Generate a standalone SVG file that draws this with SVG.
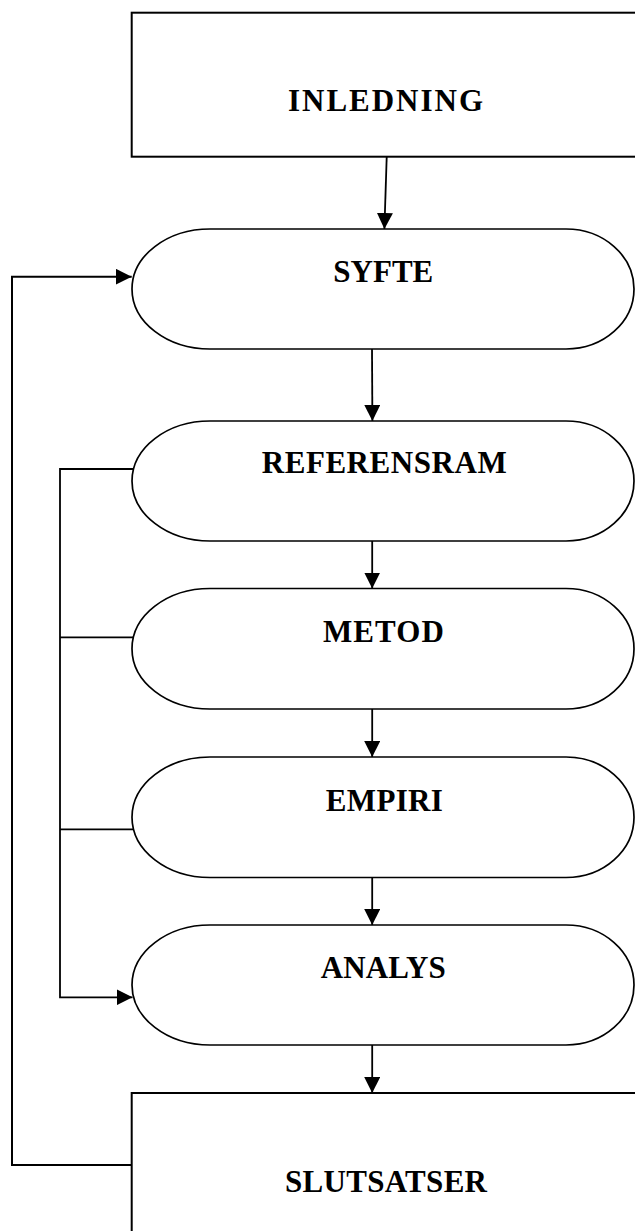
<svg xmlns="http://www.w3.org/2000/svg" width="635" height="1231" viewBox="0 0 635 1231">
<style>
.box{fill:#fff;stroke:#000;stroke-width:2}
.cap{fill:#fff;stroke:#000;stroke-width:1.7}
.lbl{font-family:"Liberation Serif","Times New Roman",serif;font-weight:bold;font-size:31px;fill:#000;text-anchor:middle}
.ln{fill:none;stroke:#000;stroke-width:1.8}
.lnb{fill:none;stroke:#000;stroke-width:2}
</style>
<defs>
<marker id="ah" markerUnits="userSpaceOnUse" markerWidth="16" markerHeight="16" viewBox="0 0 16 16" refX="16" refY="8" orient="auto">
<path d="M0,0 L16,8 L0,16 Z" fill="#000"/>
</marker>
</defs>
<rect width="635" height="1231" fill="#fff"/>
<g id="inledning">
<rect class="box" x="131.7" y="12.7" width="520" height="144"/>
<text class="lbl" x="385.5" y="110.7" textLength="195" lengthAdjust="spacing">INLEDNING</text>
</g>
<g id="syfte">
<path class="cap" d="M210,229 H566 A68,60 0 0 1 566,349 H210 A78,60 0 0 1 210,229 Z"/>
<text class="lbl" x="383.3" y="281.7" textLength="100" lengthAdjust="spacing">SYFTE</text>
</g>
<g id="referensram">
<path class="cap" d="M210,421 H566 A68,60 0 0 1 566,541 H210 A78,60 0 0 1 210,421 Z"/>
<text class="lbl" x="384.2" y="473.3" textLength="245" lengthAdjust="spacing">REFERENSRAM</text>
</g>
<g id="metod">
<path class="cap" d="M210,588.5 H566 A68,60.25 0 0 1 566,709 H210 A78,60.25 0 0 1 210,588.5 Z"/>
<text class="lbl" x="383.4" y="642.3" textLength="121" lengthAdjust="spacing">METOD</text>
</g>
<g id="empiri">
<path class="cap" d="M210,757 H566 A68,60.25 0 0 1 566,877.5 H210 A78,60.25 0 0 1 210,757 Z"/>
<text class="lbl" x="384.3" y="811" textLength="117" lengthAdjust="spacing">EMPIRI</text>
</g>
<g id="analys">
<path class="cap" d="M210,925 H566 A68,60 0 0 1 566,1045 H210 A78,60 0 0 1 210,925 Z"/>
<text class="lbl" x="383.3" y="978.3" textLength="125" lengthAdjust="spacing">ANALYS</text>
</g>
<g id="slutsatser">
<rect class="box" x="131.7" y="1093" width="520" height="160"/>
<text class="lbl" x="386" y="1191.7" textLength="202" lengthAdjust="spacing">SLUTSATSER</text>
</g>
<g id="connectors">
<path class="ln" d="M386.7,157 L384.4,229" marker-end="url(#ah)"/>
<path class="ln" d="M372,349 L372.4,421" marker-end="url(#ah)"/>
<path class="ln" d="M372.2,541 L372.2,588.5" marker-end="url(#ah)"/>
<path class="ln" d="M372.2,709 L372.2,757" marker-end="url(#ah)"/>
<path class="ln" d="M372.2,877.5 L372.2,925" marker-end="url(#ah)"/>
<path class="ln" d="M372.2,1045 L372.2,1093" marker-end="url(#ah)"/>
<path class="lnb" d="M131.7,1165 L12,1165 L12,276.7 L131.7,276.7" marker-end="url(#ah)"/>
<path class="ln" d="M133.6,469 L60,469 L60,997.3 L132.5,997.3" marker-end="url(#ah)"/>
<path class="ln" d="M60,637.3 L133.6,637.3"/>
<path class="ln" d="M60,829.3 L133.6,829.3"/>
</g>
</svg>
